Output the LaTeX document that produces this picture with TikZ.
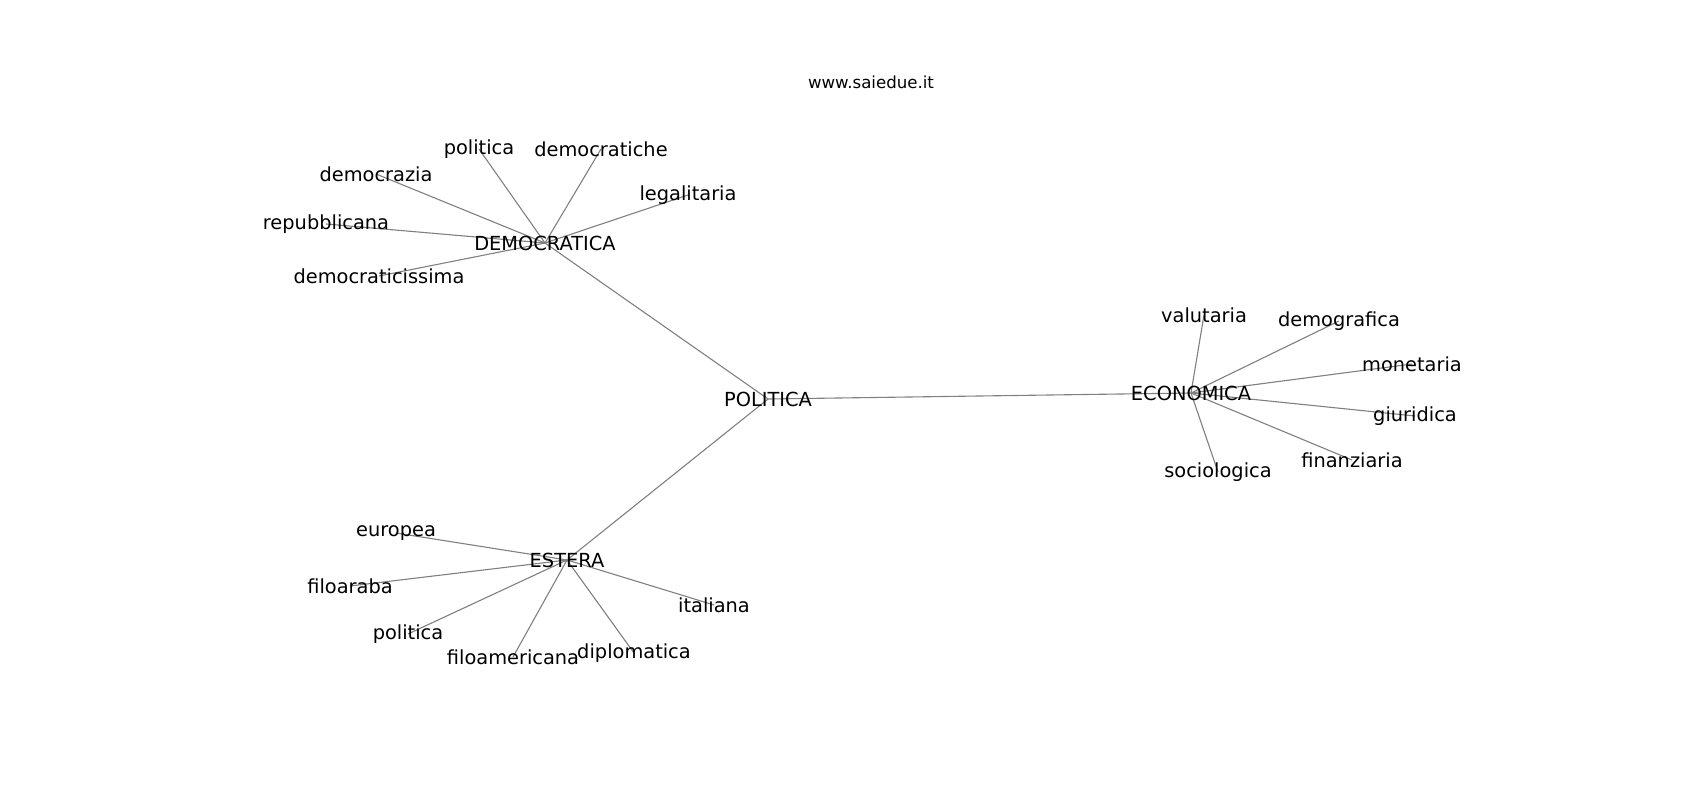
\documentclass[tikz,border=0pt]{standalone}
\usepackage{fontspec}
\setmainfont{DejaVu Sans}
\usepackage{tikz}
\usetikzlibrary{backgrounds}
\tikzstyle{edge} = [draw=black!50, line width=0.8pt]
\tikzstyle{word} = [inner sep=0pt, font=\fontsize{14}{16}\selectfont]
\tikzstyle{site} = [inner sep=0pt, font=\fontsize{12}{14}\selectfont]

\begin{document}
\begin{tikzpicture}[x=0.01in, y=-0.01in]
            \useasboundingbox (0,0) rectangle (1700,800);
            \node (web) [site] at (871,82) {www.saiedue.it};

            \node (pol) [word] at (768,399) {POLITICA};
            \node (dem) [word] at (545,243) {DEMOCRATICA};
            \node (eco) [word] at (1191,393) {ECONOMICA};
            \node (est) [word] at (567,560) {ESTERA};

            % DEMOCRATICA
            \node (d1) [word] at (479,149) {politica};
            \node (d2) [word] at (601,149) {democratiche};
            \node (d3) [word] at (376,174) {democrazia};
            \node (d4) [word] at (688,195) {legalitaria};
            \node (d5) [word] at (326,224) {repubblicana};
            \node (d6) [word] at (379,276) {democraticissima};

            % ECONOMICA
            \node (e1) [word] at (1204,315) {valutaria};
            \node (e2) [word] at (1339,321) {demografica};
            \node (e3) [word] at (1412,364) {monetaria};
            \node (e4) [word] at (1415,416) {giuridica};
            \node (e5) [word] at (1352,460) {finanziaria};
            \node (e6) [word] at (1218,472) {sociologica};

            % ESTERA
            \node (s1) [word] at (396,533) {europea};
            \node (s2) [word] at (350,586) {filoaraba};
            \node (s3) [word] at (408,634) {politica};
            \node (s4) [word] at (513,657) {filoamericana};
            \node (s5) [word] at (634,653) {diplomatica};
            \node (s6) [word] at (714,605) {italiana};

            \begin{pgfonlayer}{background}
            \draw [edge] (pol.center) -- (dem.center);
            \draw [edge] (pol.center) -- (eco.center);
            \draw [edge] (pol.center) -- (est.center);
            \foreach \i in {1,...,6} {
                \draw [edge] (dem.center) -- (d\i.center);
                \draw [edge] (eco.center) -- (e\i.center);
                \draw [edge] (est.center) -- (s\i.center);
            }
            \end{pgfonlayer}
        \end{tikzpicture}
\end{document}
